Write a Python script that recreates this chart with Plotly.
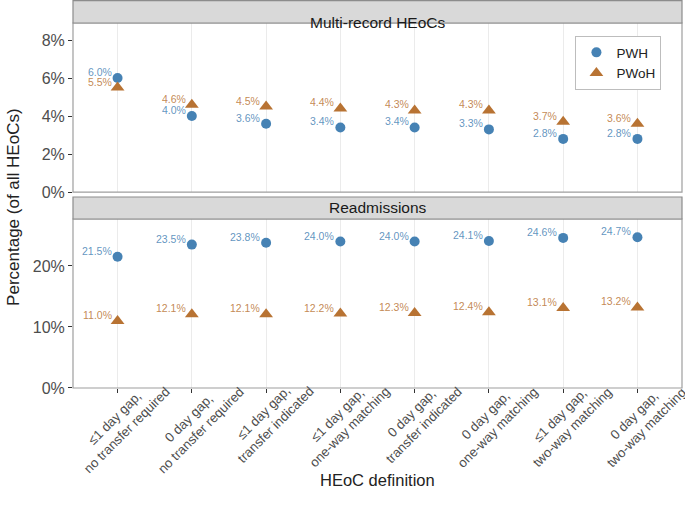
import plotly.graph_objects as go

# HEoC definitions (x categories)
definitions = [
    "≤1 day gap,<br>no transfer required",
    "0 day gap,<br>no transfer required",
    "≤1 day gap,<br>transfer indicated",
    "≤1 day gap,<br>one-way matching",
    "0 day gap,<br>transfer indicated",
    "0 day gap,<br>one-way matching",
    "≤1 day gap,<br>two-way matching",
    "0 day gap,<br>two-way matching",
]

multi_pwh = [6.0, 4.0, 3.6, 3.4, 3.4, 3.3, 2.8, 2.8]
multi_pwoh = [5.5, 4.6, 4.5, 4.4, 4.3, 4.3, 3.7, 3.6]
readm_pwh = [21.5, 23.5, 23.8, 24.0, 24.0, 24.1, 24.6, 24.7]
readm_pwoh = [11.0, 12.1, 12.1, 12.2, 12.3, 12.4, 13.1, 13.2]

panel_titles = ["Multi-record HEoCs", "Readmissions"]
top_ticks = [0, 2, 4, 6, 8]
bot_ticks = [0, 10, 20]

BLUE = "#4682B4"
COPPER = "#B87333"
BLUE_TXT = "rgba(70,130,180,0.85)"
COPPER_TXT = "rgba(184,115,51,0.85)"
FONT = "Liberation Sans, Arial, sans-serif"

fig = go.Figure()


def add_pair(pwh, pwoh, xaxis, yaxis, showlegend):
    fig.add_trace(go.Scatter(
        x=definitions, y=pwh, mode="markers", name="PWH",
        marker=dict(symbol="circle", size=10, color=BLUE),
        xaxis=xaxis, yaxis=yaxis, showlegend=showlegend, legendgroup="PWH",
    ))
    fig.add_trace(go.Scatter(
        x=definitions, y=pwoh, mode="markers", name="PWoH",
        marker=dict(symbol="triangle-up", size=12, color=COPPER),
        xaxis=xaxis, yaxis=yaxis, showlegend=showlegend, legendgroup="PWoH",
    ))
    # value labels up-left of each point
    for vals, col in ((pwh, BLUE_TXT), (pwoh, COPPER_TXT)):
        for d, v in zip(definitions, vals):
            fig.add_annotation(
                x=d, y=v, xref=xaxis, yref=yaxis, text=f"{v:.1f}%",
                showarrow=False, xanchor="right", yanchor="middle",
                xshift=-4, yshift=6,
                font=dict(size=10.5, color=col, family=FONT),
            )


add_pair(multi_pwh, multi_pwoh, "x2", "y2", True)
add_pair(readm_pwh, readm_pwoh, "x", "y", False)

# panel geometry in paper coords (plot height 388px)
bot_dom = [0, 0.4356]
top_dom = [0.505, 0.9407]
strips = [(0.9407, 0.9985), (0.4356, 0.4923)]

axis_common = dict(
    showline=False, zeroline=False, showgrid=False, automargin=False,
    ticks="outside", ticklen=4, tickcolor="#333333",
    tickfont=dict(size=16, color="#4d4d4d", family=FONT),
)

fig.update_layout(
    width=685, height=512,
    margin=dict(l=73, r=3, t=0, b=124),
    paper_bgcolor="white", plot_bgcolor="white",
    font=dict(family=FONT),
    xaxis=dict(
        type="category", range=[-0.6, 7.6], automargin=False,
        showgrid=True, gridcolor="#ebebeb", gridwidth=1,
        showline=False, zeroline=False, showticklabels=False,
        ticks="outside", ticklen=4, tickcolor="#333333",
        anchor="y",
    ),
    xaxis2=dict(
        type="category", range=[-0.6, 7.6], matches="x", automargin=False,
        showgrid=True, gridcolor="#ebebeb", gridwidth=1,
        showticklabels=False, showline=False, zeroline=False,
        anchor="y2",
    ),
    yaxis=dict(domain=bot_dom, range=[0, 27.7], tickvals=bot_ticks,
               ticktext=[f"{t}%" for t in bot_ticks], anchor="x", **axis_common),
    yaxis2=dict(domain=top_dom, range=[0, 8.9], tickvals=top_ticks,
                ticktext=[f"{t}%" for t in top_ticks], anchor="x2", **axis_common),
    legend=dict(
        x=0.825, y=0.907, xanchor="left", yanchor="top",
        bgcolor="white", bordercolor="#bdbdbd", borderwidth=1,
        font=dict(size=13.5, color="#222222", family=FONT),
        itemwidth=30, tracegroupgap=0,
    ),
    showlegend=True,
)

# rotated category labels under the bottom panel
for d in definitions:
    fig.add_annotation(
        x=d, y=0, xref="x", yref="paper", text=d, textangle=-45,
        showarrow=False, xanchor="center", yanchor="top", align="center",
        xshift=3, yshift=19,
        font=dict(size=13.2, color="#4d4d4d", family=FONT),
    )

# panel borders and strips
for dom in (bot_dom, top_dom):
    fig.add_shape(type="rect", xref="paper", yref="paper", x0=0, x1=1,
                  y0=dom[0], y1=dom[1], line=dict(color="#9e9e9e", width=1.2),
                  fillcolor="rgba(0,0,0,0)", layer="above")
for (y0, y1), title in zip(strips, panel_titles):
    fig.add_shape(type="rect", xref="paper", yref="paper", x0=0, x1=1,
                  y0=y0, y1=y1, line=dict(color="#8c8c8c", width=1.2),
                  fillcolor="#d9d9d9")
    fig.add_annotation(text=title, xref="paper", yref="paper", x=0.5,
                       y=(y0 + y1) / 2, showarrow=False,
                       font=dict(size=15.5, color="#1a1a1a", family=FONT))

fig.add_annotation(text="Percentage (of all HEoCs)", xref="paper", yref="paper",
                   x=-0.099, y=0.466, textangle=-90, showarrow=False,
                   xanchor="center", yanchor="middle",
                   font=dict(size=17, color="#222222", family=FONT))
fig.add_annotation(text="HEoC definition", xref="paper", yref="paper",
                   x=0.5, y=-0.237, showarrow=False,
                   xanchor="center", yanchor="middle",
                   font=dict(size=16.5, color="#222222", family=FONT))

fig.write_html("out.html", config={"displayModeBar": False},
               post_script="document.body.style.margin='0';")
